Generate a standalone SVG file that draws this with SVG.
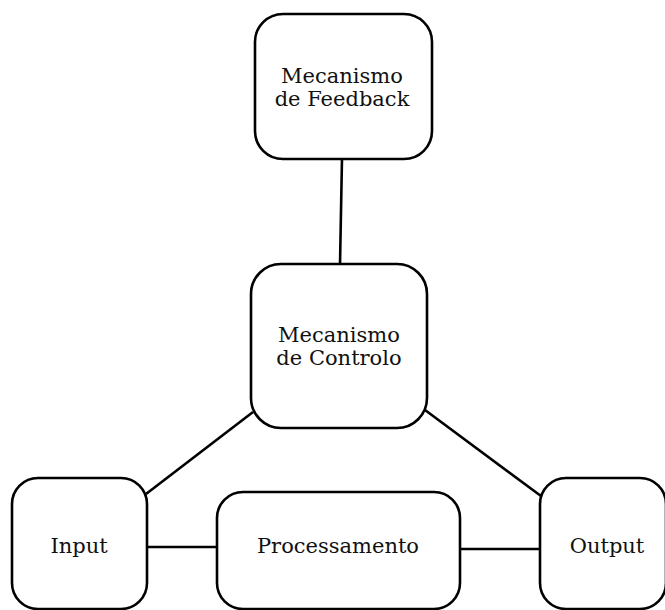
<svg xmlns="http://www.w3.org/2000/svg" width="665" height="610" viewBox="0 0 665 610">
<style>
.box{fill:#fff;stroke:#000;stroke-width:2.6}
.lbl{font-family:"DejaVu Serif","Liberation Serif",serif;font-size:21px;fill:#111;text-anchor:middle}
.con{stroke:#000;stroke-width:2.6;fill:none}
</style>
<rect width="665" height="610" fill="#fff"/>
<g id="connectors">
<line class="con" x1="342" y1="158" x2="340" y2="265"/>
<line class="con" x1="253" y1="412" x2="146" y2="494"/>
<line class="con" x1="425" y1="410" x2="541" y2="496"/>
<line class="con" x1="147" y1="547" x2="218" y2="547"/>
<line class="con" x1="459" y1="549" x2="541" y2="549"/>
</g>
<g id="feedback">
<rect class="box" x="255" y="14" width="177" height="145" rx="28"/>
<text class="lbl" x="342" y="83">Mecanismo</text>
<text class="lbl" x="342" y="106">de Feedback</text>
</g>
<g id="controlo">
<rect class="box" x="251" y="264" width="176" height="164" rx="30"/>
<text class="lbl" x="339" y="342">Mecanismo</text>
<text class="lbl" x="339" y="365">de Controlo</text>
</g>
<g id="input">
<rect class="box" x="12" y="478" width="135" height="131" rx="26"/>
<text class="lbl" x="79" y="553">Input</text>
</g>
<g id="processamento">
<rect class="box" x="217" y="492" width="243" height="117" rx="26"/>
<text class="lbl" x="338" y="553">Processamento</text>
</g>
<g id="output">
<rect class="box" x="540" y="478" width="126" height="131" rx="26"/>
<text class="lbl" x="607" y="553">Output</text>
</g>
</svg>
